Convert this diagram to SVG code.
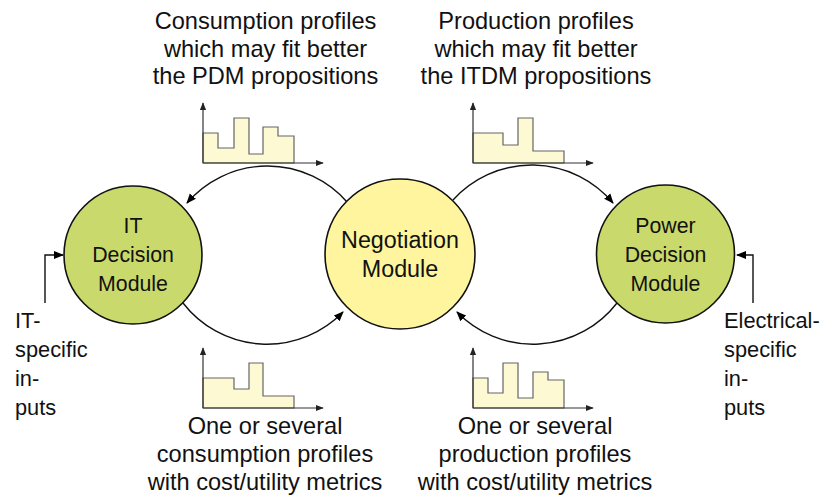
<svg xmlns="http://www.w3.org/2000/svg" width="825" height="496" viewBox="0 0 825 496">
<defs>
<marker id="arr" viewBox="0 0 10 10" refX="9" refY="5" markerWidth="10" markerHeight="10" markerUnits="userSpaceOnUse" orient="auto">
<path d="M0,1 L10,5 L0,9 Z" fill="#000"/>
</marker>
<marker id="ax" viewBox="0 0 10 10" refX="9" refY="5" markerWidth="8" markerHeight="8" markerUnits="userSpaceOnUse" orient="auto">
<path d="M0,1 L10,5 L0,9 Z" fill="#222"/>
</marker>
</defs>
<style>
text{font-family:"Liberation Sans",Arial,Helvetica,sans-serif;fill:#111}
.lbl{font-size:23.6px;text-anchor:middle}
.mod{font-size:21.3px;text-anchor:middle}
.neg{font-size:23.3px;text-anchor:middle}
.side{font-size:21.8px}
.dm{fill:#c9d96b;stroke:#111;stroke-width:1.6}
.ng{fill:#fef59e;stroke:#111;stroke-width:1.6}
.con{fill:none;stroke:#111;stroke-width:1.4;marker-end:url(#arr)}
.bar{fill:#fdf9d2;stroke:#666;stroke-width:1.2}
.axis{fill:none;stroke:#333;stroke-width:1.2;marker-end:url(#ax)}
</style>
<rect width="825" height="496" fill="#fff"/>

<g id="connectors">
<path class="con" d="M347,202 A106,106 0 0 0 187,203"/>
<path class="con" d="M453,200 A106,106 0 0 1 613,203"/>
<path class="con" d="M183,303 A106,106 0 0 0 343,312"/>
<path class="con" d="M617,303 A106,106 0 0 1 457,312"/>
<path class="con" d="M45,303 V255 H63"/>
<path class="con" d="M753,303 V255 H737"/>
</g>

<g id="it-decision">
<circle class="dm" cx="133" cy="255" r="69"/>
<text class="mod" x="133" y="233">IT</text>
<text class="mod" x="133" y="262">Decision</text>
<text class="mod" x="133" y="291">Module</text>
</g>

<g id="negotiation">
<circle class="ng" cx="400" cy="254" r="75"/>
<text class="neg" x="400" y="248">Negotiation</text>
<text class="neg" x="400" y="277">Module</text>
</g>

<g id="power-decision">
<circle class="dm" cx="665.5" cy="254" r="69"/>
<text class="mod" x="665.5" y="233">Power</text>
<text class="mod" x="665.5" y="262">Decision</text>
<text class="mod" x="665.5" y="291">Module</text>
</g>

<g id="chart-consumption-top">
<path class="bar" d="M203,163 V133 H218 V148 H234 V118 H249 V154 H263 V127 H278 V136 H294 V163 Z"/>
<path class="axis" d="M203,163 V103"/>
<path class="axis" d="M203,163 H323"/>
</g>

<g id="chart-production-top">
<path class="bar" d="M473,163 V133 H503 V145 H518 V118 H533 V151 H564 V163 Z"/>
<path class="axis" d="M473,163 V103"/>
<path class="axis" d="M473,163 H593"/>
</g>

<g id="chart-consumption-bottom">
<path class="bar" d="M203,408 V378 H234 V389 H249 V363 H263 V396 H294 V408 Z"/>
<path class="axis" d="M203,408 V348"/>
<path class="axis" d="M203,408 H323"/>
</g>

<g id="chart-production-bottom">
<path class="bar" d="M473,408 V378 H488 V393 H503 V363 H518 V398 H533 V372 H548 V380 H564 V408 Z"/>
<path class="axis" d="M473,408 V348"/>
<path class="axis" d="M473,408 H593"/>
</g>

<g id="label-top-left">
<text class="lbl" x="265.5" y="29">Consumption profiles</text>
<text class="lbl" x="265.5" y="56.5">which may fit better</text>
<text class="lbl" x="265.5" y="84">the PDM propositions</text>
</g>

<g id="label-top-right">
<text class="lbl" x="536" y="29">Production profiles</text>
<text class="lbl" x="536" y="56.5">which may fit better</text>
<text class="lbl" x="536" y="84">the ITDM propositions</text>
</g>

<g id="label-bottom-left">
<text class="lbl" x="265" y="434">One or several</text>
<text class="lbl" x="265" y="462">consumption profiles</text>
<text class="lbl" x="265" y="490">with cost/utility metrics</text>
</g>

<g id="label-bottom-right">
<text class="lbl" x="535" y="434">One or several</text>
<text class="lbl" x="535" y="462">production profiles</text>
<text class="lbl" x="535" y="490">with cost/utility metrics</text>
</g>

<g id="label-it-inputs">
<text class="side" x="15" y="328">IT-</text>
<text class="side" x="15" y="357">specific</text>
<text class="side" x="15" y="386">in-</text>
<text class="side" x="15" y="415">puts</text>
</g>

<g id="label-electrical-inputs">
<text class="side" x="724" y="328">Electrical-</text>
<text class="side" x="724" y="357">specific</text>
<text class="side" x="724" y="386">in-</text>
<text class="side" x="724" y="415">puts</text>
</g>
</svg>
